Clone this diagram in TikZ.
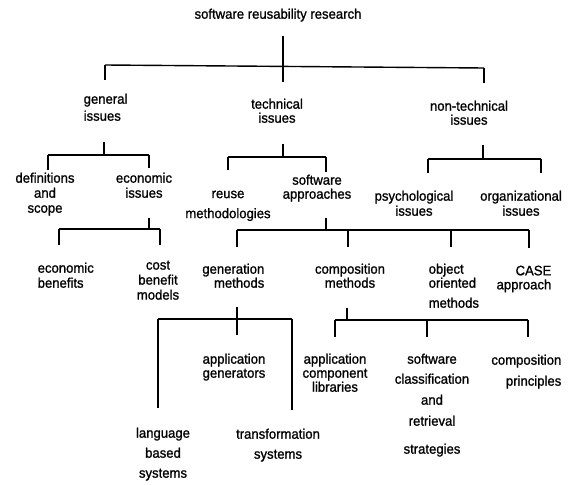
\documentclass[tikz,border=0pt]{standalone}
\usepackage{fontspec}
\setmainfont{Liberation Sans}[FakeStretch=0.95,FakeBold=1.1]

\tikzset{
  lbl/.style={inner sep=0pt, align=center, anchor=north,
    font=\fontsize{13.8}{14}\selectfont},
  lbll/.style={lbl, align=left, anchor=north west},
  lblr/.style={lbl, align=right, anchor=north east},
  stemgap/.style={shorten <=#1},
  dropgap/.style={shorten >=#1}
}

\begin{document}
\begin{tikzpicture}[x=1pt, y=-1pt, line width=1.4pt]
        \useasboundingbox (0,0) rectangle (569,484);
        \node[lbl] (root) at (278,8) {software reusability research};
        \node[lbll] (gen) at (83,93) {general\\[3pt]issues};
        \node[lbl] (tech) at (277,98) {technical\\issues};
        \node[lbl] (nontech) at (469,100) {non-technical\\issues};
        \node[lbl] (defs) at (45,172) {definitions\\[1pt]and\\[1pt]scope};
        \node[lbl] (econ) at (144,172) {economic\\[1pt]issues};
        \node[lbl] (reuse) at (228,190) {reuse\\[6pt]methodologies};
        \node[lbl] (swapp) at (317,174) {software\\approaches};
        \node[lbl] (psych) at (414,190) {psychological\\[1pt]issues};
        \node[lbl] (org) at (521,190) {organizational\\[1pt]issues};
        \node[lbll] (econben) at (37,262) {economic\\[1pt]benefits};
        \node[lbl] (costben) at (158,260) {cost\\[1pt]benefit\\[1pt]models};
        \node[lblr] (genm) at (265,263) {generation\\methods};
        \node[lbl] (compm) at (350,263) {composition\\methods};
        \node[lbll] (oom) at (428,263) {object\\oriented\\[6pt]methods};
        \node[lblr] (case) at (552,265) {CASE\\approach};
        \node[lbl] (appgen) at (234,353) {application\\generators};
        \node[lbl] (lang) at (163,427) {language\\[6pt]based\\[6pt]systems};
        \node[lbl] (trans) at (278,428) {transformation\\[6pt]systems};
        \node[lbl] (acl) at (335,353) {application\\component\\libraries};
        \node[lbl] (scr) at (432,353) {software\\[6pt]classification\\[7pt]and\\[7pt]retrieval\\[14pt]strategies};
        \node[lblr] (cp) at (562,354) {composition\\[7pt]principles};

        \coordinate (gen-top) at (105,65);
        \coordinate (tech-top) at (283,66.4);
        \coordinate (nontech-top) at (484,68);
        \draw[stemgap=14] (root.south -| tech-top) -- (tech-top);
        \draw (gen-top) -- (nontech-top);
        \draw[dropgap=13] (gen-top) -- (gen-top |- gen.north);
        \draw[dropgap=16] (tech-top) -- (tech-top |- tech.north);
        \draw[dropgap=17] (nontech-top) -- (nontech-top |- nontech.north);

        \coordinate (gen-j) at (104,155);
        \coordinate (defs-top) at (48,155);
        \coordinate (econ-top) at (149,155);
        \draw[stemgap=20] (gen.south -| gen-j) -- (gen-j);
        \draw (defs-top) -- (econ-top);
        \draw[dropgap=2] (defs-top) -- (defs-top |- defs.north);
        \draw[dropgap=4] (econ-top) -- (econ-top |- econ.north);

        \coordinate (tech-j) at (283,157);
        \coordinate (reuse-top) at (228,157);
        \coordinate (swapp-top) at (326,157);
        \draw[stemgap=20] (tech.south -| tech-j) -- (tech-j);
        \draw (reuse-top) -- (swapp-top);
        \draw[dropgap=20] (reuse-top) -- (reuse-top |- reuse.north);
        \draw[dropgap=2] (swapp-top) -- (swapp-top |- swapp.north);

        \coordinate (nontech-j) at (483,159);
        \coordinate (psych-top) at (428,159);
        \coordinate (org-top) at (541,159);
        \draw[stemgap=19] (nontech.south -| nontech-j) -- (nontech-j);
        \draw (psych-top) -- (org-top);
        \draw[dropgap=17] (psych-top) -- (psych-top |- psych.north);
        \draw[dropgap=17] (org-top) -- (org-top |- org.north);

        \coordinate (econ-j) at (149,229);
        \coordinate (econben-top) at (59,229);
        \coordinate (costben-top) at (160,229);
        \draw[stemgap=19] (econ.south -| econ-j) -- (econ-j);
        \draw (econben-top) -- (costben-top);
        \draw[dropgap=17] (econben-top) -- (econben-top |- econben.north);
        \draw[dropgap=15] (costben-top) -- (costben-top |- costben.north);

        \coordinate (swapp-j) at (326,230);
        \coordinate (genm-top) at (237,230);
        \coordinate (compm-top) at (348,230);
        \coordinate (oom-top) at (451,230);
        \coordinate (case-top) at (529,230);
        \draw[stemgap=16] (swapp.south -| swapp-j) -- (swapp-j);
        \draw (genm-top) -- (case-top);
        \draw[dropgap=16] (genm-top) -- (genm-top |- genm.north);
        \draw[dropgap=16] (compm-top) -- (compm-top |- compm.north);
        \draw[dropgap=16] (oom-top) -- (oom-top |- oom.north);
        \draw[dropgap=17] (case-top) -- (case-top |- case.north);

        \coordinate (lang-top) at (158,319);
        \coordinate (appgen-top) at (237,319);
        \coordinate (trans-top) at (292,319);
        \draw[stemgap=18] (genm.south -| appgen-top) -- (appgen-top);
        \draw (lang-top) -- (trans-top);
        \draw[dropgap=19] (lang-top) -- (lang-top |- lang.north);
        \draw[dropgap=18] (appgen-top) -- (appgen-top |- appgen.north);
        \draw[dropgap=18] (trans-top) -- (trans-top |- trans.north);

        \coordinate (compm-j) at (347,320);
        \coordinate (acl-top) at (335,320);
        \coordinate (scr-top) at (427,320);
        \coordinate (cp-top) at (528,320);
        \draw[stemgap=19] (compm.south -| compm-j) -- (compm-j);
        \draw (acl-top) -- (cp-top);
        \draw[dropgap=16] (acl-top) -- (acl-top |- acl.north);
        \draw[dropgap=16] (scr-top) -- (scr-top |- scr.north);
        \draw[dropgap=17] (cp-top) -- (cp-top |- cp.north);
\end{tikzpicture}
\end{document}
